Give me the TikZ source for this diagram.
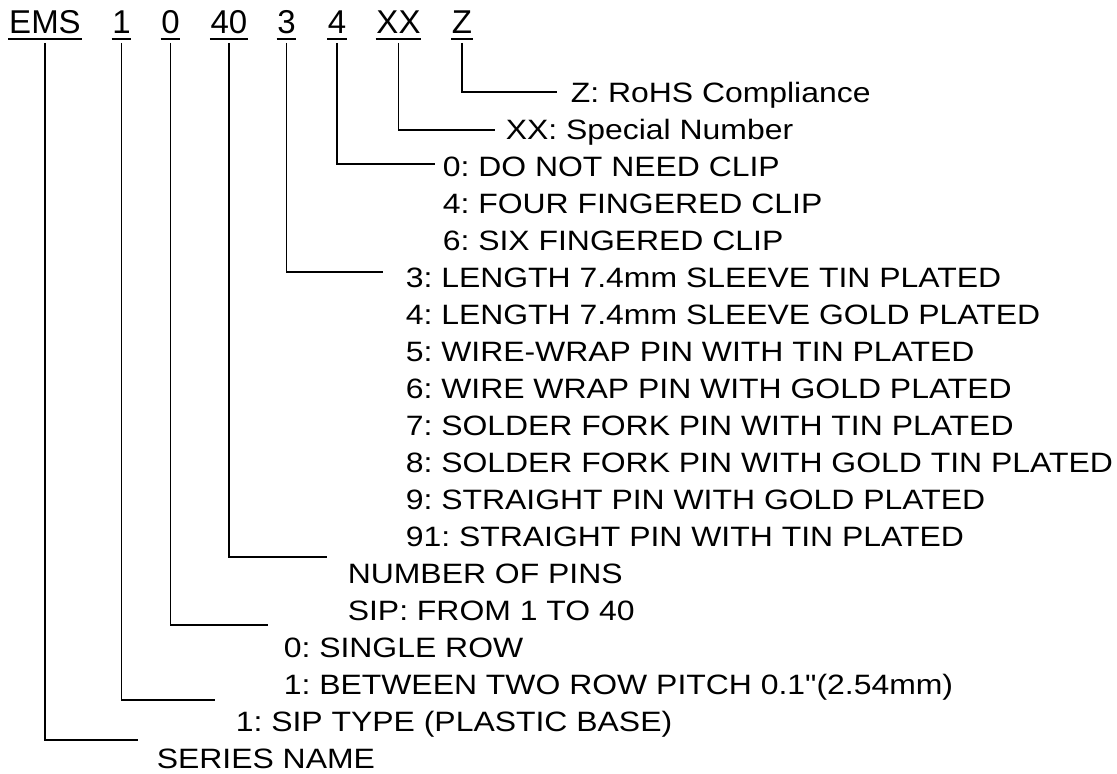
\documentclass[tikz,border=0pt]{standalone}
\usepackage{fontspec}
\setmainfont{Liberation Sans}
\newfontfamily\descfont{Liberation Sans}[FakeStretch=1.14]
\frenchspacing
\begin{document}
\begin{tikzpicture}[x=1pt, y=-1pt, line width=1.6pt,
  code/.style={font=\fontsize{33}{40}\selectfont, anchor=base, inner xsep=0pt, inner ysep=5pt, text depth=0pt},
  desc/.style={font=\descfont\fontsize{28}{34}\selectfont, anchor=base west, inner sep=0pt}]
  \useasboundingbox (0,0) rectangle (1117,774);

  % ---- code fields (underlined) ----
  \foreach \x/\lab/\name in {45/EMS/ems, 121.5/1/type, 170.5/0/row, 229/40/pins,
      286.5/3/pin, 337/4/clip, 398.5/XX/spec, 462/Z/rohs} {
    \node[code] (\name) at (\x,33) {\lab};
    \draw (\name.south west) -- (\name.south east);
  }

  % ---- description lines ----
  \foreach \i/\x/\txt in {0/570/{Z: RoHS Compliance}, 1/505/{XX: Special Number},
      2/442/{0: DO NOT NEED CLIP}, 3/442/{4: FOUR FINGERED CLIP}, 4/442/{6: SIX FINGERED CLIP},
      5/405/{3: LENGTH 7.4mm SLEEVE TIN PLATED}, 6/405/{4: LENGTH 7.4mm SLEEVE GOLD PLATED},
      7/405/{5: WIRE-WRAP PIN WITH TIN PLATED}, 8/405/{6: WIRE WRAP PIN WITH GOLD PLATED},
      9/405/{7: SOLDER FORK PIN WITH TIN PLATED}, 10/405/{8: SOLDER FORK PIN WITH GOLD TIN PLATED},
      11/405/{9: STRAIGHT PIN WITH GOLD PLATED}, 12/405/{91: STRAIGHT PIN WITH TIN PLATED},
      13/347/{NUMBER OF PINS}, 14/347/{SIP: FROM 1 TO 40},
      15/283/{0: SINGLE ROW}, 16/283/{1: BETWEEN TWO ROW PITCH 0.1\symbol{34}(2.54mm)},
      17/235/{1: SIP TYPE (PLASTIC BASE)}, 18/156/{SERIES NAME}} {
    \node[desc] (d\i) at (\x,102+37*\i) {\txt};
  }

  % ---- leaders: field -> description ----
  \foreach \name/\x/\y in {rohs/557/92, spec/495/130, clip/435/164, pin/383/272,
      pins/327/557, row/268/625, type/215/700, ems/138/740} {
    \coordinate (\name-end) at (\x,\y);
    \draw ([yshift=-4pt]\name.south) |- (\name-end);
  }
\end{tikzpicture}
\end{document}
